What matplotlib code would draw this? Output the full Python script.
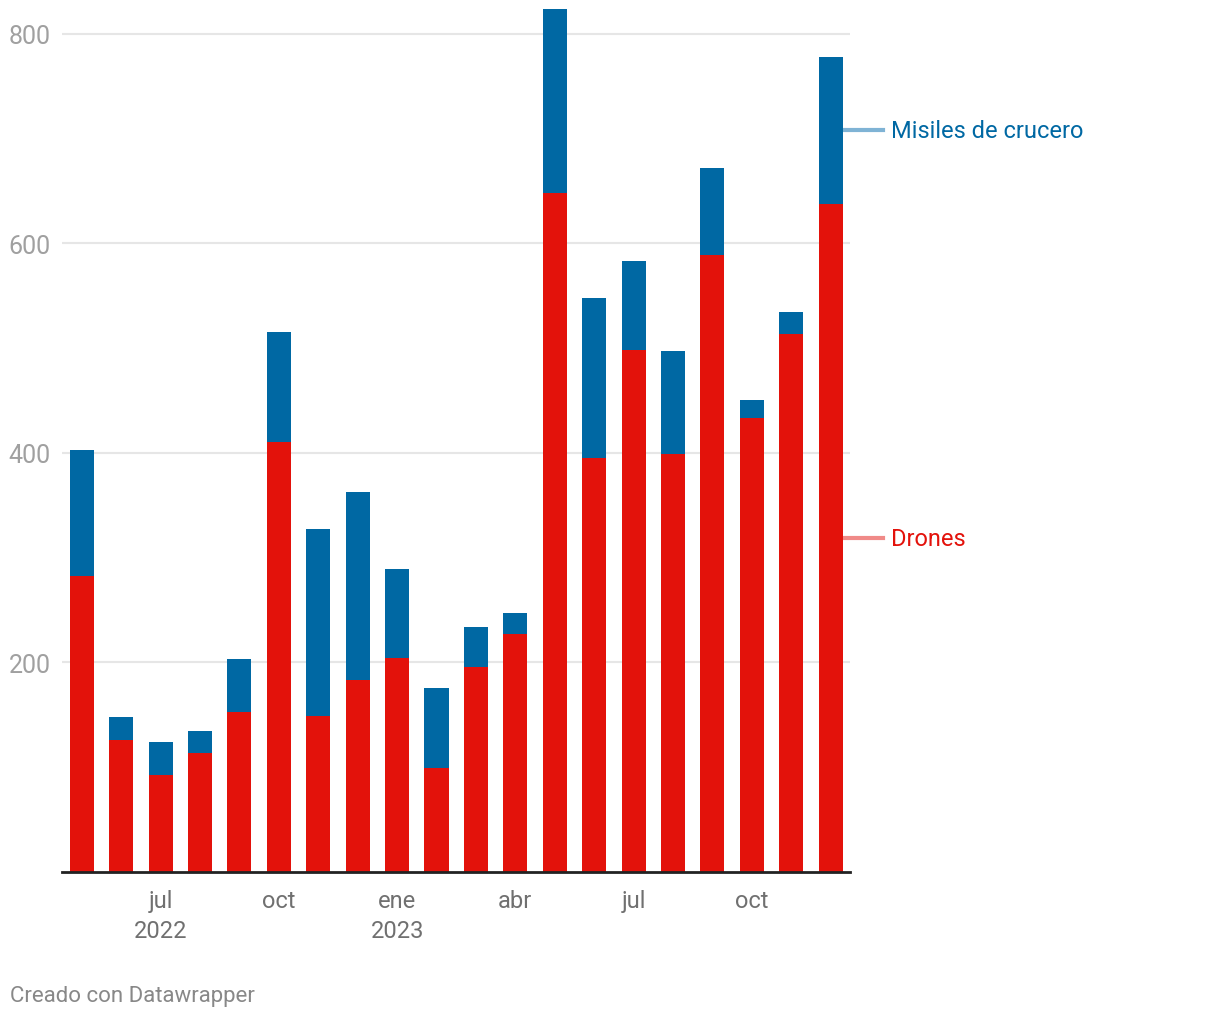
import numpy as np
import matplotlib.pyplot as plt

plt.rcParams['font.family'] = ['Roboto', 'DejaVu Sans']

# monthly counts, may 2022 .. dec 2023
months = ['may22', 'jun22', 'jul22', 'ago22', 'sep22', 'oct22', 'nov22', 'dic22',
          'ene23', 'feb23', 'mar23', 'abr23', 'may23', 'jun23', 'jul23', 'ago23',
          'sep23', 'oct23', 'nov23', 'dic23']
drones = [282, 126, 93, 114, 153, 410, 149, 183, 204, 99, 196, 227,
          648, 395, 498, 399, 589, 433, 513, 637]
misiles = [121, 22, 31, 21, 50, 105, 178, 180, 85, 77, 38, 20,
           175, 153, 85, 98, 83, 17, 21, 141]

tick_pos = [2, 5, 8, 11, 14, 17]
tick_labels = ['jul\n2022', 'oct', 'ene\n2023', 'abr', 'jul', 'oct']

red = '#e3120b'
blue = '#0068a3'

fig = plt.figure(figsize=(12.2, 10.2), dpi=100)
ax = fig.add_axes([62/1220, 1 - 873/1020, (850-62)/1220, (873-10)/1020])

x = np.arange(len(months))
drones = np.array(drones)
misiles = np.array(misiles)
ax.bar(x, drones, width=0.61, color=red, zorder=3)
ax.bar(x, misiles, width=0.61, bottom=drones, color=blue, zorder=3)

ax.set_xlim(-0.5, 19.49)
ax.set_ylim(0, 823.4)

for s in ['top', 'right', 'left']:
    ax.spines[s].set_visible(False)
ax.spines['bottom'].set_linewidth(2)
ax.spines['bottom'].set_color('#222222')
ax.spines['bottom'].set_zorder(4)

ax.set_yticks([200, 400, 600, 800])
ax.yaxis.grid(True, color='#e6e6e6', linewidth=1.5, zorder=0)
ax.tick_params(axis='y', length=0, pad=8, labelsize=18, labelcolor='#a0a0a0')
ax.set_xticks(tick_pos)
ax.set_xticklabels(tick_labels, linespacing=1.4)
ax.tick_params(axis='x', length=0, pad=12, labelsize=17, labelcolor='#707070')

# direct labels at the last bar
last = len(months) - 1
y_m = drones[last] + misiles[last] / 2
y_d = drones[last] / 2
ax.plot([19.30, 20.32], [y_m, y_m], color='#7fb3d5', lw=3, clip_on=False)
ax.plot([19.30, 20.32], [y_d, y_d], color='#f08a88', lw=3, clip_on=False)
ax.text(20.52, y_m, 'Misiles de crucero', color=blue, fontsize=17, va='center', ha='left')
ax.text(20.52, y_d, 'Drones', color=red, fontsize=17, va='center', ha='left')

fig.text(10/1220, 1 - 997/1020, 'Creado con Datawrapper', fontsize=16,
         color='#888888', va='center', ha='left')

fig.savefig('out.png', dpi=100)
